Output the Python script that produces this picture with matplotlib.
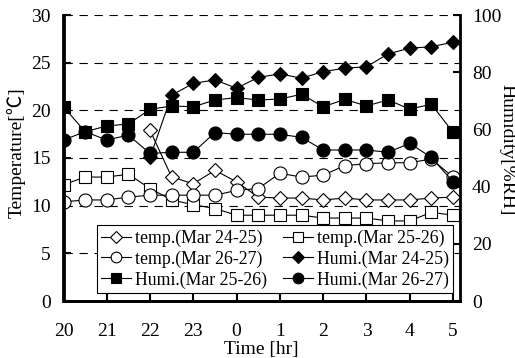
import matplotlib
matplotlib.use("Agg")
import matplotlib.pyplot as plt

plt.rcParams["font.family"] = ["Liberation Serif", "DejaVu Serif"]
plt.rcParams["lines.scale_dashes"] = False

# Elapsed clock hours (20:00 -> 05:00 next day), half-hour readings
hours = [20.0, 20.5, 21.0, 21.5, 22.0, 22.5, 23.0, 23.5, 24.0, 24.5,
         25.0, 25.5, 26.0, 26.5, 27.0, 27.5, 28.0, 28.5, 29.0]
hour_ticks = [20, 21, 22, 23, 24, 25, 26, 27, 28, 29]
hour_labels = ["20", "21", "22", "23", "0", "1", "2", "3", "4", "5"]

# Temperature [deg C]
temp_24_25 = [17.9, 13.0, 12.3, 13.7, 12.5, 10.9, 10.8, 10.8, 10.6,
              10.8, 10.6, 10.6, 10.6, 10.8, 10.9]          # from 22:00
temp_25_26 = [12.2, 13.0, 13.0, 13.3, 11.8, 10.6, 10.1, 9.7, 9.0, 9.0,
              9.0, 9.0, 8.7, 8.7, 8.7, 8.4, 8.4, 9.3, 9.0]
temp_26_27 = [10.4, 10.6, 10.6, 10.9, 11.1, 11.1, 11.1, 11.1, 11.6, 11.8,
              13.4, 13.0, 13.2, 14.2, 14.4, 14.5, 14.5, 14.9, 13.0]

# Relative humidity [%RH]
humi_24_25 = [50.2, 72.0, 76.1, 77.3, 74.4, 78.2, 79.4, 77.9, 80.2,
              81.4, 81.9, 86.4, 88.4, 88.9, 90.5]          # from 22:00
humi_25_26 = [67.9, 59.2, 61.2, 61.9, 67.0, 68.2, 67.9, 70.3, 71.1, 70.3,
              70.6, 72.3, 67.9, 70.5, 68.2, 70.3, 67.1, 68.8, 59.0]
humi_26_27 = [56.3, 59.2, 56.3, 58.0, 51.6, 52.0, 52.0, 58.9, 58.3, 58.3,
              58.3, 57.2, 52.8, 52.8, 52.8, 52.0, 55.1, 50.2, 41.7]

W, H = 515, 358
fig = plt.figure(figsize=(W / 100, H / 100), dpi=100)
ax = fig.add_axes([63.5 / W, 1 - 301 / H, 396 / W, 286 / H])
ax2 = ax.twinx()

line_kw = dict(color="black", lw=0.8, mec="black", mew=0.8)
start = hours.index(22.0)

h1, = ax.plot(hours[start:], temp_24_25, marker="D", ms=7.6, mfc="white",
              label="temp.(Mar 24-25)", **line_kw)
h2, = ax.plot(hours, temp_25_26, marker="s", ms=8.4, mfc="white",
              label="temp.(Mar 25-26)", **line_kw)
h3, = ax.plot(hours, temp_26_27, marker="o", ms=9.4, mfc="white",
              label="temp.(Mar 26-27)", **line_kw)
h5, = ax2.plot(hours, humi_25_26, marker="s", ms=8.4, mfc="black",
               label="Humi.(Mar 25-26)", **line_kw)
h6, = ax2.plot(hours, humi_26_27, marker="o", ms=9.4, mfc="black",
               label="Humi.(Mar 26-27)", **line_kw)
h4, = ax2.plot(hours[start:], humi_24_25, marker="D", ms=7.6, mfc="black",
               label="Humi.(Mar 24-25)", **line_kw)

# axes ranges and ticks
ax.set_xlim(20, 29.15)
ax.set_ylim(0, 30)
ax2.set_ylim(0, 100)
ax.set_xticks(hour_ticks)
ax.set_xticklabels(hour_labels)
ax.set_yticks([0, 5, 10, 15, 20, 25, 30])
ax2.set_yticks([0, 20, 40, 60, 80, 100])

for y in [5, 10, 15, 20, 25, 30]:
    ax.axhline(y, color="black", lw=0.8, ls=(0, (6, 4.8)), zorder=0.5)

for a in (ax, ax2):
    a.spines["top"].set_visible(False)
    for s in ("left", "right", "bottom"):
        a.spines[s].set_linewidth(2.0)
ax.spines["right"].set_visible(False)

ax.tick_params(axis="both", direction="in", length=5, width=1.5,
               labelsize=14, colors="black")
ax.tick_params(axis="x", pad=15.5)
ax.tick_params(axis="y", pad=9)
ax2.tick_params(axis="y", direction="in", length=5, width=1.5,
                labelsize=14, pad=9)

ax.set_xlabel("Time [hr]", fontsize=14, labelpad=1)
ax.set_ylabel("Temperature[℃]", fontsize=14,
              family=["Liberation Serif", "Noto Sans CJK JP"])
ax.yaxis.set_label_coords(-0.095, 0.52)
ax2.set_ylabel("Humidity[%RH]", fontsize=14, rotation=270)
ax2.yaxis.set_label_coords(1.14, 0.53)

leg = ax2.legend(handles=[h1, h3, h5, h2, h4, h6], ncol=2,
                 loc="lower right", bbox_to_anchor=(0.984, 0.028),
                 borderaxespad=0, fontsize=12.8, frameon=True,
                 fancybox=False, framealpha=1, edgecolor="black",
                 handlelength=1.7, handletextpad=0.2, columnspacing=0.9,
                 labelspacing=0.2, borderpad=0.25, markerscale=0.82)
leg.get_frame().set_linewidth(0.8)

fig.savefig("out.png", dpi=100)
